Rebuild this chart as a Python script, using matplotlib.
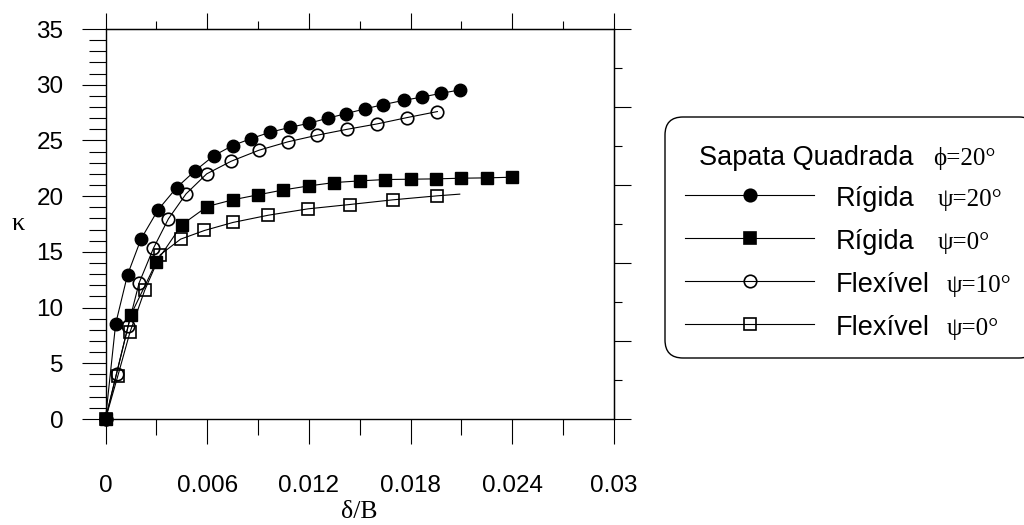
import numpy as np
import matplotlib.pyplot as plt
from matplotlib.patches import FancyBboxPatch

# Rigida, psi = 20 deg (filled circles)
rig20_x = [0, 0.0006, 0.0013, 0.0021, 0.0031, 0.0042, 0.0053, 0.0064, 0.0075, 0.0086,
           0.0097, 0.0109, 0.0120, 0.0131, 0.0142, 0.0153, 0.0164, 0.0176, 0.0187, 0.0198, 0.0209]
rig20_k = [0, 8.55, 12.94, 16.17, 18.77, 20.77, 22.3, 23.64, 24.54, 25.17,
           25.73, 26.18, 26.54, 26.99, 27.41, 27.83, 28.22, 28.6, 28.9, 29.23, 29.53]

# Rigida, psi = 0 deg (filled squares)
rig0_x = [0, 0.0015, 0.003, 0.0045, 0.006, 0.0075, 0.009, 0.0105, 0.012,
          0.0135, 0.015, 0.0165, 0.018, 0.0195, 0.021, 0.0225, 0.024]
rig0_k = [0, 9.36, 14.08, 17.43, 19.07, 19.67, 20.12, 20.56, 20.92,
          21.22, 21.37, 21.49, 21.52, 21.55, 21.61, 21.64, 21.7]

# Flexivel, psi = 10 deg (open circles)
flex10_x = [0, 0.00065, 0.00133, 0.00198, 0.00283, 0.00371, 0.00475, 0.00597,
            0.00741, 0.00905, 0.01075, 0.01249, 0.01426, 0.01602, 0.01779, 0.01958]
flex10_k = [0, 4.07, 8.31, 12.2, 15.33, 17.96, 20.2, 22.0,
            23.13, 24.12, 24.87, 25.47, 26.0, 26.48, 27.05, 27.59]

# Flexivel, psi = 0 deg (open squares); the curve runs a bit past the last marker
flex0_x = [0, 0.00072, 0.00144, 0.00231, 0.00323, 0.00443, 0.00584,
           0.00752, 0.00961, 0.01195, 0.01441, 0.01696, 0.01958]
flex0_k = [0, 3.83, 7.77, 11.54, 14.74, 16.14, 16.92,
           17.64, 18.29, 18.86, 19.25, 19.67, 20.03]
flex0_end_x = 0.0209
flex0_end_k = 20.18

xticks = [0, 0.006, 0.012, 0.018, 0.024, 0.03]
xtick_labels = ['0', '0.006', '0.012', '0.018', '0.024', '0.03']
yticks = [0, 5, 10, 15, 20, 25, 30, 35]

plt.rcParams['font.family'] = ['Liberation Sans', 'DejaVu Sans']
serif = ['Liberation Serif', 'DejaVu Serif']

W, H = 1024, 525
fig = plt.figure(figsize=(W / 100, H / 100), dpi=100)
ax = fig.add_axes([105.5 / W, 1 - 419 / H, 508.5 / W, 390 / H])

lw = 0.8
ax.plot(flex0_x + [flex0_end_x], flex0_k + [flex0_end_k], '-', color='k', lw=lw,
        zorder=2, clip_on=False)
ax.plot(flex0_x, flex0_k, 's', ms=8, mfc='none', mec='k', mew=1.2, zorder=3, clip_on=False)
ax.plot(flex10_x, flex10_k, '-', color='k', lw=lw, marker='o', ms=9,
        mfc='none', mec='k', mew=1.2, zorder=3, clip_on=False)
ax.plot(rig20_x, rig20_k, '-', color='k', lw=lw, marker='o', ms=9,
        mfc='k', mec='k', zorder=4, clip_on=False)
ax.plot(rig0_x, rig0_k, '-', color='k', lw=lw, marker='s', ms=9,
        mfc='k', mec='k', zorder=5, clip_on=False)

ax.set_xlim(0, 0.03)
ax.set_ylim(0, 35)
ax.set_xticks(xticks)
ax.set_xticklabels(xtick_labels)
ax.set_xticks(np.arange(0.003, 0.03, 0.006), minor=True)
ax.set_yticks(yticks)
ax.set_yticks(np.arange(0, 36, 1), minor=True)
ax.tick_params(axis='x', which='major', direction='out', length=18, width=0.8, pad=22, labelsize=17.5)
ax.tick_params(axis='x', which='minor', direction='out', length=11.5, width=0.8)
ax.tick_params(axis='y', which='major', direction='out', length=17.3, width=0.8, pad=13, labelsize=17.5)
ax.tick_params(axis='y', which='minor', direction='out', length=12.2, width=0.8)
for s in ax.spines.values():
    s.set_linewidth(1.0)

# top and right axes: ticks only
top = ax.secondary_xaxis('top')
top.set_xticks(xticks)
top.set_xticks(np.arange(0.003, 0.03, 0.006), minor=True)
top.tick_params(axis='x', which='major', direction='out', length=11.5, width=0.8, labeltop=False)
top.tick_params(axis='x', which='minor', direction='out', length=5.8, width=0.8)
right = ax.secondary_yaxis('right')
right.set_yticks(np.arange(0, 35.1, 7))
right.set_yticks(np.arange(3.5, 35, 7), minor=True)
right.tick_params(axis='y', which='major', direction='out', length=12.2, width=0.8, labelright=False)
right.tick_params(axis='y', which='minor', direction='out', length=5.8, width=0.8)

ax.set_xlabel('δ/B', family=serif, fontsize=18.5, va='center')
ax.xaxis.set_label_coords(0.5, (419 - 512) / 390)
ax.set_ylabel('κ', family=serif, fontsize=19, rotation=0, va='center', ha='center')
ax.yaxis.set_label_coords((18.5 - 105.5) / 508.5, 0.5)

# legend box, drawn in pixel coordinates
lax = fig.add_axes([0, 0, 1, 1])
lax.set_xlim(0, W)
lax.set_ylim(H, 0)
lax.axis('off')
lax.add_patch(FancyBboxPatch((665, 117), 372, 241, boxstyle='round,pad=0,rounding_size=18',
                             fc='white', ec='k', lw=1.0))
lax.text(699, 165, 'Sapata Quadrada', fontsize=19.5, va='baseline')
lax.text(933, 165, 'ϕ=20°', family=serif, fontsize=18, va='baseline')

rows_y = [195, 238, 281, 324]
names = ['Rígida', 'Rígida', 'Flexível', 'Flexível']
psi = ['ψ=20°', 'ψ=0°', 'ψ=10°', 'ψ=0°']
psi_x = [938, 938, 947, 947]
styles = [('o', 'k', 9), ('s', 'k', 9), ('o', 'none', 9), ('s', 'none', 8)]
for y, name, p, px, (m, fc, ms) in zip(rows_y, names, psi, psi_x, styles):
    lax.plot([685, 814], [y, y], color='k', lw=lw)
    lax.plot([750], [y], marker=m, ms=ms, mfc=fc, mec='k', mew=1.2, ls='none')
    lax.text(836, y + 11, name, fontsize=19.5, va='baseline')
    lax.text(px, y + 11, p, family=serif, fontsize=18, va='baseline')

fig.savefig('out.png', dpi=100)
